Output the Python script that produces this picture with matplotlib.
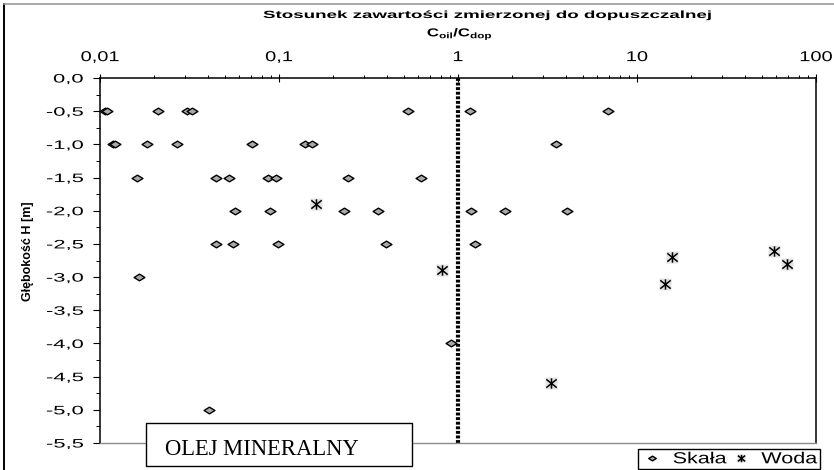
import numpy as np
import matplotlib
matplotlib.use("Agg")
import matplotlib.pyplot as plt
from matplotlib.path import Path
from matplotlib.patches import Rectangle
from matplotlib.lines import Line2D
from matplotlib.transforms import Affine2D
from matplotlib.patheffects import AbstractPathEffect
from matplotlib.ticker import MultipleLocator, LogLocator, NullFormatter

plt.rcParams['font.family'] = 'Liberation Sans'
plt.rcParams['mathtext.fontset'] = 'custom'
plt.rcParams['mathtext.rm'] = 'Liberation Sans'
plt.rcParams['mathtext.bf'] = 'Liberation Sans:bold'

# values
skala_x = [0.0106, 0.0110, 0.0211, 0.0306, 0.0328, 0.527, 1.17, 6.88,
           0.0118, 0.0121, 0.0184, 0.027, 0.071, 0.139, 0.153, 3.54,
           0.016, 0.0446, 0.0523, 0.0868, 0.0959, 0.243, 0.618,
           0.057, 0.089, 0.230, 0.356, 1.18, 1.83, 4.05,
           0.0446, 0.0556, 0.0988, 0.397, 1.24,
           0.0166, 0.91, 0.0406]
skala_y = [-0.5, -0.5, -0.5, -0.5, -0.5, -0.5, -0.5, -0.5,
           -1.0, -1.0, -1.0, -1.0, -1.0, -1.0, -1.0, -1.0,
           -1.5, -1.5, -1.5, -1.5, -1.5, -1.5, -1.5,
           -2.0, -2.0, -2.0, -2.0, -2.0, -2.0, -2.0,
           -2.5, -2.5, -2.5, -2.5, -2.5,
           -3.0, -4.0, -5.0]

woda_x = [0.160, 0.811, 15.7, 58.1, 69.1, 14.4, 3.31]
woda_y = [-1.9, -2.9, -2.7, -2.6, -2.8, -3.1, -4.6]

x_ticks = [0.01, 0.1, 1, 10, 100]
x_tick_labels = ['0,01', '0,1', '1', '10', '100']
y_ticks = [0.0, -0.5, -1.0, -1.5, -2.0, -2.5, -3.0, -3.5, -4.0, -4.5, -5.0, -5.5]
y_tick_labels = ['0,0', '-0,5', '-1,0', '-1,5', '-2,0', '-2,5', '-3,0',
                 '-3,5', '-4,0', '-4,5', '-5,0', '-5,5']
legend_labels = ['Skała', 'Woda']

title = 'Stosunek zawartości zmierzonej do dopuszczalnej'
xlabel = r'$\mathbf{C}_{\mathbf{oil}}\mathbf{/C}_{\mathbf{dop}}$'
ylabel = 'Głębokość H [m]'
box_text = 'OLEJ MINERALNY'


class Stretch(AbstractPathEffect):
    # the source chart was resized unevenly, so its text is wider than normal
    def __init__(self, sx, anchor=0.5):
        super().__init__()
        self.sx = sx
        self.anchor = anchor

    def draw_path(self, renderer, gc, tpath, affine, rgbFace=None):
        ext = tpath.get_extents()
        x0 = ext.x0 + self.anchor * ext.width
        pre = Affine2D().translate(-x0, 0).scale(self.sx, 1).translate(x0, 0)
        renderer.draw_path(gc, tpath, pre + affine, rgbFace)


# flat diamond and six-armed asterisk like the excel markers
diamond = Path([(0, 0.62), (1, 0), (0, -0.62), (-1, 0), (0, 0.62)],
               [Path.MOVETO, Path.LINETO, Path.LINETO, Path.LINETO, Path.CLOSEPOLY])
asterisk = Path([(0, -1), (0, 1), (-1, -0.8), (1, 0.8), (-1, 0.8), (1, -0.8)],
                [Path.MOVETO, Path.LINETO] * 3)

fig = plt.figure(figsize=(8.34, 4.70), dpi=100)
ax = fig.add_axes([100/834, 1-443/470, 716/834, 365/470])
ax.set_xscale('log')

ax.axvline(1, color='black', lw=3, linestyle=(0, (0.7, 0.4)), zorder=2)
bg, = ax.plot(woda_x, woda_y, linestyle='none', marker='s', markersize=8.5,
              color='#e2e2e2', mec='none', zorder=3)
wd, = ax.plot(woda_x, woda_y, linestyle='none', marker=asterisk, markersize=7.5,
              mec='black', mfc='none', mew=1.1, zorder=4)
sk, = ax.plot(skala_x, skala_y, linestyle='none', marker=diamond, markersize=7.8,
              mfc='#a9a9a9', mec='black', mew=1.0, zorder=4)

ax.set_xlim(0.01, 100)
ax.set_ylim(-5.5, 0)

ax.xaxis.tick_top()
ax.set_xticks(x_ticks)
ax.set_xticklabels(x_tick_labels)
ax.xaxis.set_minor_locator(LogLocator(base=10, subs=np.arange(2, 10)))
ax.xaxis.set_minor_formatter(NullFormatter())
ax.tick_params(axis='x', which='major', direction='inout', length=6, width=0.8,
               pad=7, labelsize=10.3)
ax.tick_params(axis='x', which='minor', direction='out', length=2.2, width=0.7)

ax.set_yticks(y_ticks)
ax.set_yticklabels(y_tick_labels)
ax.yaxis.set_minor_locator(MultipleLocator(0.25))
ax.tick_params(axis='y', which='major', direction='out', length=5, width=0.8,
               pad=7, labelsize=8.8)
ax.tick_params(axis='y', which='minor', direction='out', length=3, width=0.7)

for t in ax.get_xticklabels():
    t.set_path_effects([Stretch(1.4)])
for t in ax.get_yticklabels():
    t.set_path_effects([Stretch(1.8, anchor=1)])

for s in ['left', 'top', 'right']:
    ax.spines[s].set_linewidth(1.1)
ax.spines['bottom'].set_color('#8c8c8c')
ax.spines['bottom'].set_linewidth(1)

fig.text(487/834, 1-15/470, title, fontsize=7.5, fontweight='bold',
         ha='center', va='center', path_effects=[Stretch(1.8)])
fig.text(460/834, 1-34/470, xlabel, fontsize=8.3, ha='center', va='center',
         path_effects=[Stretch(1.45)])
fig.text(28/834, 1-251/470, ylabel, rotation=90, fontsize=9, fontweight='bold',
         ha='center', va='center')

# frame lines of the original picture
fig.add_artist(Line2D([4/834, 4/834], [0, 1-4/470], color='black', lw=1.4))
fig.add_artist(Line2D([4/834, 1], [1-4/470, 1-4/470], color='#999999', lw=1.2))

fig.add_artist(Rectangle((146/834, 1-466/470), 266/834, 43/470, facecolor='white',
                         edgecolor='black', lw=1, zorder=5))
fig.text(165/834, 1-455/470, box_text, family='Liberation Serif', fontsize=16.3,
         va='baseline', ha='left', zorder=6)

leg = ax.legend([sk, (bg, wd)], legend_labels, ncol=2, loc='lower right',
                bbox_to_anchor=(820/834, 1-469/470), bbox_transform=fig.transFigure,
                frameon=True, fancybox=False, edgecolor='black', framealpha=1,
                fontsize=11.5, handlelength=1.4, handletextpad=1.47, columnspacing=0.2,
                borderpad=0.17, borderaxespad=0, markerscale=0.7)
leg.get_frame().set_linewidth(1)
for t in leg.get_texts():
    t.set_path_effects([Stretch(1.35, anchor=1)])

fig.savefig('out.png', dpi=100)
